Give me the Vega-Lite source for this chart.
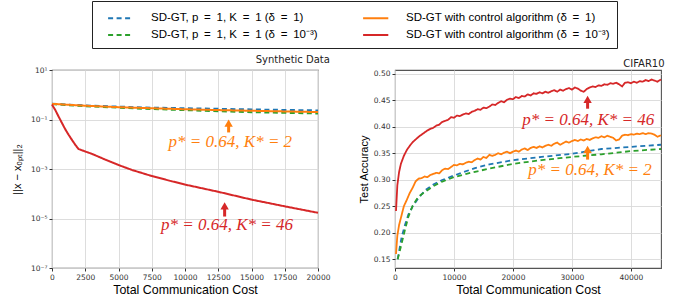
{
  "$schema": "https://vega.github.io/schema/vega-lite/v6.json",
  "autosize": {"type": "pad"},
  "padding": {"left": 10, "top": 0, "right": 18, "bottom": 0},
  "bounds": "flush",
  "spacing": 77,
  "background": "white",
  "config": {
    "view": {"stroke": "#555", "strokeWidth": 1.1},
    "font": "DejaVu Sans",
    "axis": {
      "domain": false,
      "grid": true,
      "gridColor": "#d9d9d9",
      "gridWidth": 0.9,
      "tickColor": "#333",
      "tickSize": 3,
      "labelFont": "DejaVu Sans",
      "labelFontSize": 7.5,
      "labelColor": "#333",
      "labelPadding": 2,
      "labelOverlap": false,
      "titleFont": "Liberation Sans",
      "titleFontWeight": "normal",
      "titleColor": "black",
      "labelFlush": false
    },
    "title": {"font": "DejaVu Sans", "fontSize": 10, "fontWeight": "normal", "anchor": "end", "offset": 1, "color": "#222"}
  },
  "resolve": {"scale": {"color": "shared", "strokeDash": "shared", "x": "independent", "y": "independent"}},
  "datasets": {
    "lines": [
      {"p": "syn", "s": "b", "x": 0, "y": 0.43},
      {"p": "syn", "s": "b", "x": 2500, "y": 0.37},
      {"p": "syn", "s": "b", "x": 5000, "y": 0.33},
      {"p": "syn", "s": "b", "x": 7500, "y": 0.30},
      {"p": "syn", "s": "b", "x": 10000, "y": 0.285},
      {"p": "syn", "s": "b", "x": 12500, "y": 0.27},
      {"p": "syn", "s": "b", "x": 15000, "y": 0.255},
      {"p": "syn", "s": "b", "x": 17500, "y": 0.243},
      {"p": "syn", "s": "b", "x": 20000, "y": 0.232},
      {"p": "syn", "s": "g", "x": 0, "y": 0.42},
      {"p": "syn", "s": "g", "x": 2500, "y": 0.345},
      {"p": "syn", "s": "g", "x": 5000, "y": 0.30},
      {"p": "syn", "s": "g", "x": 7500, "y": 0.265},
      {"p": "syn", "s": "g", "x": 10000, "y": 0.24},
      {"p": "syn", "s": "g", "x": 12500, "y": 0.215},
      {"p": "syn", "s": "g", "x": 15000, "y": 0.198},
      {"p": "syn", "s": "g", "x": 17500, "y": 0.186},
      {"p": "syn", "s": "g", "x": 20000, "y": 0.176},
      {"p": "syn", "s": "o", "x": 0, "y": 0.43},
      {"p": "syn", "s": "o", "x": 2500, "y": 0.36},
      {"p": "syn", "s": "o", "x": 5000, "y": 0.315},
      {"p": "syn", "s": "o", "x": 7500, "y": 0.285},
      {"p": "syn", "s": "o", "x": 10000, "y": 0.26},
      {"p": "syn", "s": "o", "x": 12500, "y": 0.24},
      {"p": "syn", "s": "o", "x": 15000, "y": 0.225},
      {"p": "syn", "s": "o", "x": 17500, "y": 0.212},
      {"p": "syn", "s": "o", "x": 20000, "y": 0.20},
      {"p": "syn", "s": "r", "x": 0, "y": 0.40},
      {"p": "syn", "s": "r", "x": 250, "y": 0.24},
      {"p": "syn", "s": "r", "x": 500, "y": 0.13},
      {"p": "syn", "s": "r", "x": 750, "y": 0.072},
      {"p": "syn", "s": "r", "x": 1000, "y": 0.040},
      {"p": "syn", "s": "r", "x": 1250, "y": 0.024},
      {"p": "syn", "s": "r", "x": 1500, "y": 0.015},
      {"p": "syn", "s": "r", "x": 1750, "y": 0.0095},
      {"p": "syn", "s": "r", "x": 2000, "y": 0.0064},
      {"p": "syn", "s": "r", "x": 2500, "y": 0.0051},
      {"p": "syn", "s": "r", "x": 3000, "y": 0.0041},
      {"p": "syn", "s": "r", "x": 4000, "y": 0.0024},
      {"p": "syn", "s": "r", "x": 5000, "y": 0.00145},
      {"p": "syn", "s": "r", "x": 6000, "y": 0.00092},
      {"p": "syn", "s": "r", "x": 7500, "y": 0.00052},
      {"p": "syn", "s": "r", "x": 9000, "y": 0.00032},
      {"p": "syn", "s": "r", "x": 10000, "y": 0.000235},
      {"p": "syn", "s": "r", "x": 12500, "y": 0.00012},
      {"p": "syn", "s": "r", "x": 15000, "y": 0.000058},
      {"p": "syn", "s": "r", "x": 17500, "y": 0.000031},
      {"p": "syn", "s": "r", "x": 20000, "y": 0.000017},

      {"p": "cif", "s": "b", "x": 450, "y": 0.150},
      {"p": "cif", "s": "b", "x": 800, "y": 0.172},
      {"p": "cif", "s": "b", "x": 1130, "y": 0.192},
      {"p": "cif", "s": "b", "x": 1700, "y": 0.215},
      {"p": "cif", "s": "b", "x": 2260, "y": 0.234},
      {"p": "cif", "s": "b", "x": 3000, "y": 0.250},
      {"p": "cif", "s": "b", "x": 3955, "y": 0.265},
      {"p": "cif", "s": "b", "x": 5085, "y": 0.280},
      {"p": "cif", "s": "b", "x": 6500, "y": 0.291},
      {"p": "cif", "s": "b", "x": 7900, "y": 0.299},
      {"p": "cif", "s": "b", "x": 10000, "y": 0.308},
      {"p": "cif", "s": "b", "x": 13560, "y": 0.322},
      {"p": "cif", "s": "b", "x": 16000, "y": 0.329},
      {"p": "cif", "s": "b", "x": 20000, "y": 0.337},
      {"p": "cif", "s": "b", "x": 24860, "y": 0.343},
      {"p": "cif", "s": "b", "x": 30000, "y": 0.349},
      {"p": "cif", "s": "b", "x": 35000, "y": 0.358},
      {"p": "cif", "s": "b", "x": 40000, "y": 0.362},
      {"p": "cif", "s": "b", "x": 45100, "y": 0.366},
      {"p": "cif", "s": "g", "x": 450, "y": 0.150},
      {"p": "cif", "s": "g", "x": 800, "y": 0.165},
      {"p": "cif", "s": "g", "x": 1130, "y": 0.180},
      {"p": "cif", "s": "g", "x": 1700, "y": 0.206},
      {"p": "cif", "s": "g", "x": 2260, "y": 0.230},
      {"p": "cif", "s": "g", "x": 3000, "y": 0.251},
      {"p": "cif", "s": "g", "x": 3955, "y": 0.268},
      {"p": "cif", "s": "g", "x": 5085, "y": 0.277},
      {"p": "cif", "s": "g", "x": 6500, "y": 0.288},
      {"p": "cif", "s": "g", "x": 7900, "y": 0.296},
      {"p": "cif", "s": "g", "x": 10000, "y": 0.305},
      {"p": "cif", "s": "g", "x": 13560, "y": 0.315},
      {"p": "cif", "s": "g", "x": 16000, "y": 0.321},
      {"p": "cif", "s": "g", "x": 20000, "y": 0.330},
      {"p": "cif", "s": "g", "x": 24860, "y": 0.337},
      {"p": "cif", "s": "g", "x": 30000, "y": 0.343},
      {"p": "cif", "s": "g", "x": 35000, "y": 0.348},
      {"p": "cif", "s": "g", "x": 40000, "y": 0.354},
      {"p": "cif", "s": "g", "x": 45100, "y": 0.358},
      {"p": "cif", "s": "o", "x": 170, "y": 0.160},
      {"p": "cif", "s": "o", "x": 400, "y": 0.195},
      {"p": "cif", "s": "o", "x": 700, "y": 0.215},
      {"p": "cif", "s": "o", "x": 1000, "y": 0.228},
      {"p": "cif", "s": "o", "x": 1500, "y": 0.250},
      {"p": "cif", "s": "o", "x": 2000, "y": 0.262},
      {"p": "cif", "s": "o", "x": 2500, "y": 0.275},
      {"p": "cif", "s": "o", "x": 3000, "y": 0.285},
      {"p": "cif", "s": "o", "x": 3500, "y": 0.297},
      {"p": "cif", "s": "o", "x": 4000, "y": 0.302},
      {"p": "cif", "s": "o", "x": 4500, "y": 0.303},
      {"p": "cif", "s": "o", "x": 5000, "y": 0.306},
      {"p": "cif", "s": "o", "x": 5500, "y": 0.305},
      {"p": "cif", "s": "o", "x": 6000, "y": 0.309},
      {"p": "cif", "s": "o", "x": 6500, "y": 0.311},
      {"p": "cif", "s": "o", "x": 7000, "y": 0.313},
      {"p": "cif", "s": "o", "x": 7500, "y": 0.312},
      {"p": "cif", "s": "o", "x": 8000, "y": 0.318},
      {"p": "cif", "s": "o", "x": 8500, "y": 0.321},
      {"p": "cif", "s": "o", "x": 9000, "y": 0.320},
      {"p": "cif", "s": "o", "x": 9500, "y": 0.324},
      {"p": "cif", "s": "o", "x": 10000, "y": 0.328},
      {"p": "cif", "s": "o", "x": 10500, "y": 0.327},
      {"p": "cif", "s": "o", "x": 11000, "y": 0.330},
      {"p": "cif", "s": "o", "x": 11500, "y": 0.329},
      {"p": "cif", "s": "o", "x": 12000, "y": 0.332},
      {"p": "cif", "s": "o", "x": 12500, "y": 0.334},
      {"p": "cif", "s": "o", "x": 13000, "y": 0.333},
      {"p": "cif", "s": "o", "x": 13500, "y": 0.337},
      {"p": "cif", "s": "o", "x": 14000, "y": 0.340},
      {"p": "cif", "s": "o", "x": 14500, "y": 0.338},
      {"p": "cif", "s": "o", "x": 15000, "y": 0.343},
      {"p": "cif", "s": "o", "x": 15500, "y": 0.341},
      {"p": "cif", "s": "o", "x": 16000, "y": 0.347},
      {"p": "cif", "s": "o", "x": 16500, "y": 0.345},
      {"p": "cif", "s": "o", "x": 17000, "y": 0.347},
      {"p": "cif", "s": "o", "x": 17500, "y": 0.350},
      {"p": "cif", "s": "o", "x": 18000, "y": 0.348},
      {"p": "cif", "s": "o", "x": 18500, "y": 0.351},
      {"p": "cif", "s": "o", "x": 19000, "y": 0.353},
      {"p": "cif", "s": "o", "x": 19500, "y": 0.350},
      {"p": "cif", "s": "o", "x": 20000, "y": 0.353},
      {"p": "cif", "s": "o", "x": 20500, "y": 0.355},
      {"p": "cif", "s": "o", "x": 21000, "y": 0.353},
      {"p": "cif", "s": "o", "x": 21500, "y": 0.357},
      {"p": "cif", "s": "o", "x": 22000, "y": 0.359},
      {"p": "cif", "s": "o", "x": 22500, "y": 0.356},
      {"p": "cif", "s": "o", "x": 23000, "y": 0.360},
      {"p": "cif", "s": "o", "x": 23500, "y": 0.362},
      {"p": "cif", "s": "o", "x": 24000, "y": 0.360},
      {"p": "cif", "s": "o", "x": 24500, "y": 0.363},
      {"p": "cif", "s": "o", "x": 25000, "y": 0.361},
      {"p": "cif", "s": "o", "x": 25500, "y": 0.364},
      {"p": "cif", "s": "o", "x": 26000, "y": 0.366},
      {"p": "cif", "s": "o", "x": 26500, "y": 0.364},
      {"p": "cif", "s": "o", "x": 27000, "y": 0.368},
      {"p": "cif", "s": "o", "x": 27500, "y": 0.370},
      {"p": "cif", "s": "o", "x": 28000, "y": 0.366},
      {"p": "cif", "s": "o", "x": 28500, "y": 0.369},
      {"p": "cif", "s": "o", "x": 29000, "y": 0.372},
      {"p": "cif", "s": "o", "x": 29500, "y": 0.370},
      {"p": "cif", "s": "o", "x": 30000, "y": 0.373},
      {"p": "cif", "s": "o", "x": 30500, "y": 0.375},
      {"p": "cif", "s": "o", "x": 31000, "y": 0.373},
      {"p": "cif", "s": "o", "x": 31500, "y": 0.376},
      {"p": "cif", "s": "o", "x": 32000, "y": 0.374},
      {"p": "cif", "s": "o", "x": 32500, "y": 0.377},
      {"p": "cif", "s": "o", "x": 33000, "y": 0.375},
      {"p": "cif", "s": "o", "x": 33500, "y": 0.378},
      {"p": "cif", "s": "o", "x": 34000, "y": 0.380},
      {"p": "cif", "s": "o", "x": 34500, "y": 0.379},
      {"p": "cif", "s": "o", "x": 35000, "y": 0.382},
      {"p": "cif", "s": "o", "x": 35500, "y": 0.380},
      {"p": "cif", "s": "o", "x": 36000, "y": 0.383},
      {"p": "cif", "s": "o", "x": 36500, "y": 0.381},
      {"p": "cif", "s": "o", "x": 37000, "y": 0.379},
      {"p": "cif", "s": "o", "x": 37500, "y": 0.374},
      {"p": "cif", "s": "o", "x": 38000, "y": 0.376},
      {"p": "cif", "s": "o", "x": 38500, "y": 0.383},
      {"p": "cif", "s": "o", "x": 39000, "y": 0.385},
      {"p": "cif", "s": "o", "x": 39500, "y": 0.384},
      {"p": "cif", "s": "o", "x": 40000, "y": 0.386},
      {"p": "cif", "s": "o", "x": 40500, "y": 0.385},
      {"p": "cif", "s": "o", "x": 41000, "y": 0.387},
      {"p": "cif", "s": "o", "x": 41500, "y": 0.386},
      {"p": "cif", "s": "o", "x": 42000, "y": 0.388},
      {"p": "cif", "s": "o", "x": 42500, "y": 0.386},
      {"p": "cif", "s": "o", "x": 43000, "y": 0.388},
      {"p": "cif", "s": "o", "x": 43500, "y": 0.387},
      {"p": "cif", "s": "o", "x": 44000, "y": 0.385},
      {"p": "cif", "s": "o", "x": 44500, "y": 0.381},
      {"p": "cif", "s": "o", "x": 45100, "y": 0.384},
      {"p": "cif", "s": "r", "x": 170, "y": 0.241},
      {"p": "cif", "s": "r", "x": 400, "y": 0.290},
      {"p": "cif", "s": "r", "x": 700, "y": 0.315},
      {"p": "cif", "s": "r", "x": 1000, "y": 0.330},
      {"p": "cif", "s": "r", "x": 1500, "y": 0.345},
      {"p": "cif", "s": "r", "x": 2000, "y": 0.356},
      {"p": "cif", "s": "r", "x": 2500, "y": 0.364},
      {"p": "cif", "s": "r", "x": 3000, "y": 0.371},
      {"p": "cif", "s": "r", "x": 3500, "y": 0.376},
      {"p": "cif", "s": "r", "x": 4000, "y": 0.381},
      {"p": "cif", "s": "r", "x": 4500, "y": 0.385},
      {"p": "cif", "s": "r", "x": 5000, "y": 0.389},
      {"p": "cif", "s": "r", "x": 5500, "y": 0.393},
      {"p": "cif", "s": "r", "x": 6000, "y": 0.396},
      {"p": "cif", "s": "r", "x": 6500, "y": 0.398},
      {"p": "cif", "s": "r", "x": 7000, "y": 0.402},
      {"p": "cif", "s": "r", "x": 7500, "y": 0.404},
      {"p": "cif", "s": "r", "x": 8000, "y": 0.409},
      {"p": "cif", "s": "r", "x": 8500, "y": 0.411},
      {"p": "cif", "s": "r", "x": 9000, "y": 0.413},
      {"p": "cif", "s": "r", "x": 9500, "y": 0.418},
      {"p": "cif", "s": "r", "x": 10000, "y": 0.417},
      {"p": "cif", "s": "r", "x": 10500, "y": 0.421},
      {"p": "cif", "s": "r", "x": 11000, "y": 0.420},
      {"p": "cif", "s": "r", "x": 11500, "y": 0.423},
      {"p": "cif", "s": "r", "x": 12000, "y": 0.425},
      {"p": "cif", "s": "r", "x": 12500, "y": 0.424},
      {"p": "cif", "s": "r", "x": 13000, "y": 0.428},
      {"p": "cif", "s": "r", "x": 13500, "y": 0.430},
      {"p": "cif", "s": "r", "x": 14000, "y": 0.433},
      {"p": "cif", "s": "r", "x": 14500, "y": 0.432},
      {"p": "cif", "s": "r", "x": 15000, "y": 0.436},
      {"p": "cif", "s": "r", "x": 15500, "y": 0.435},
      {"p": "cif", "s": "r", "x": 16000, "y": 0.438},
      {"p": "cif", "s": "r", "x": 16500, "y": 0.442},
      {"p": "cif", "s": "r", "x": 17000, "y": 0.441},
      {"p": "cif", "s": "r", "x": 17500, "y": 0.445},
      {"p": "cif", "s": "r", "x": 18000, "y": 0.448},
      {"p": "cif", "s": "r", "x": 18500, "y": 0.446},
      {"p": "cif", "s": "r", "x": 19000, "y": 0.451},
      {"p": "cif", "s": "r", "x": 19500, "y": 0.453},
      {"p": "cif", "s": "r", "x": 20000, "y": 0.452},
      {"p": "cif", "s": "r", "x": 20500, "y": 0.456},
      {"p": "cif", "s": "r", "x": 21000, "y": 0.454},
      {"p": "cif", "s": "r", "x": 21500, "y": 0.458},
      {"p": "cif", "s": "r", "x": 22000, "y": 0.457},
      {"p": "cif", "s": "r", "x": 22500, "y": 0.461},
      {"p": "cif", "s": "r", "x": 23000, "y": 0.459},
      {"p": "cif", "s": "r", "x": 23500, "y": 0.463},
      {"p": "cif", "s": "r", "x": 24000, "y": 0.462},
      {"p": "cif", "s": "r", "x": 24500, "y": 0.465},
      {"p": "cif", "s": "r", "x": 25000, "y": 0.463},
      {"p": "cif", "s": "r", "x": 25500, "y": 0.466},
      {"p": "cif", "s": "r", "x": 26000, "y": 0.464},
      {"p": "cif", "s": "r", "x": 26500, "y": 0.467},
      {"p": "cif", "s": "r", "x": 27000, "y": 0.469},
      {"p": "cif", "s": "r", "x": 27500, "y": 0.466},
      {"p": "cif", "s": "r", "x": 28000, "y": 0.470},
      {"p": "cif", "s": "r", "x": 28500, "y": 0.468},
      {"p": "cif", "s": "r", "x": 29000, "y": 0.471},
      {"p": "cif", "s": "r", "x": 29500, "y": 0.473},
      {"p": "cif", "s": "r", "x": 30000, "y": 0.470},
      {"p": "cif", "s": "r", "x": 30500, "y": 0.474},
      {"p": "cif", "s": "r", "x": 31000, "y": 0.472},
      {"p": "cif", "s": "r", "x": 31500, "y": 0.468},
      {"p": "cif", "s": "r", "x": 32000, "y": 0.466},
      {"p": "cif", "s": "r", "x": 32500, "y": 0.471},
      {"p": "cif", "s": "r", "x": 33000, "y": 0.474},
      {"p": "cif", "s": "r", "x": 33500, "y": 0.476},
      {"p": "cif", "s": "r", "x": 34000, "y": 0.475},
      {"p": "cif", "s": "r", "x": 34500, "y": 0.478},
      {"p": "cif", "s": "r", "x": 35000, "y": 0.477},
      {"p": "cif", "s": "r", "x": 35500, "y": 0.480},
      {"p": "cif", "s": "r", "x": 36000, "y": 0.479},
      {"p": "cif", "s": "r", "x": 36500, "y": 0.482},
      {"p": "cif", "s": "r", "x": 37000, "y": 0.481},
      {"p": "cif", "s": "r", "x": 37500, "y": 0.483},
      {"p": "cif", "s": "r", "x": 38000, "y": 0.480},
      {"p": "cif", "s": "r", "x": 38500, "y": 0.476},
      {"p": "cif", "s": "r", "x": 39000, "y": 0.483},
      {"p": "cif", "s": "r", "x": 39500, "y": 0.484},
      {"p": "cif", "s": "r", "x": 40000, "y": 0.482},
      {"p": "cif", "s": "r", "x": 40500, "y": 0.485},
      {"p": "cif", "s": "r", "x": 41000, "y": 0.483},
      {"p": "cif", "s": "r", "x": 41500, "y": 0.486},
      {"p": "cif", "s": "r", "x": 42000, "y": 0.485},
      {"p": "cif", "s": "r", "x": 42500, "y": 0.488},
      {"p": "cif", "s": "r", "x": 43000, "y": 0.486},
      {"p": "cif", "s": "r", "x": 43500, "y": 0.489},
      {"p": "cif", "s": "r", "x": 44000, "y": 0.487},
      {"p": "cif", "s": "r", "x": 44500, "y": 0.485},
      {"p": "cif", "s": "r", "x": 45100, "y": 0.489}
    ],
    "ann": [
      {"p": "syn", "k": "o", "x": 13280, "y0": 0.030, "y1": 0.072, "tx": 13410, "ty": 0.0118, "t": "p* = 0.64, K* = 2"},
      {"p": "syn", "k": "r", "x": 12980, "y0": 0.000012, "y1": 0.000032, "tx": 13160, "ty": 0.0000054, "t": "p* = 0.64, K* = 46"},
      {"p": "cif", "k": "o", "x": 32655, "y0": 0.338, "y1": 0.3574, "tx": 33050, "ty": 0.3178, "t": "p* = 0.64, K* = 2"},
      {"p": "cif", "k": "r", "x": 32655, "y0": 0.434, "y1": 0.4516, "tx": 32770, "ty": 0.4133, "t": "p* = 0.64, K* = 46"}
    ]
  },
  "hconcat": [
    {
      "width": 266,
      "height": 198,
      "title": {"text": "Synthetic Data"},
      "encoding": {
        "x": {"field": "x", "type": "quantitative", "scale": {"domain": [0, 20000], "nice": false},
              "axis": {"values": [0, 2500, 5000, 7500, 10000, 12500, 15000, 17500, 20000], "format": "d", "title": "Total Communication Cost", "titleFontSize": 12.4, "titlePadding": 3, "labelOverlap": false}}
      },
      "layer": [
        {
          "data": {"name": "lines"},
          "transform": [{"filter": "datum.p == 'syn'"}],
          "mark": {"type": "line", "strokeWidth": 2},
          "encoding": {
            "y": {"field": "y", "type": "quantitative", "scale": {"type": "log", "domain": [1e-7, 10], "nice": false},
                  "axis": {"values": [1e-7, 1e-5, 1e-3, 1e-1, 10], "title": "||x − xₒₚₜ||₂", "titleFontSize": 11, "titlePadding": 8, "labelOverlap": false,
                           "labelExpr": "datum.value > 5 ? '10¹' : datum.value > 0.05 ? '10⁻¹' : datum.value > 0.0005 ? '10⁻³' : datum.value > 0.000005 ? '10⁻⁵' : '10⁻⁷'"}},
            "color": {"field": "s", "type": "nominal",
                      "scale": {"domain": ["b", "o", "g", "r"], "range": ["#1f77b4", "#ff7f0e", "#2ca02c", "#d62728"]},
                      "legend": {"title": null, "orient": "none", "legendX": 40, "legendY": -69, "columns": 2, "direction": "horizontal",
                                 "symbolType": "M-0.1,0H2.7", "symbolSize": 324, "symbolStrokeWidth": 1.8,
                                 "labelFont": "Liberation Sans", "labelFontSize": 11.5, "labelColor": "black", "labelOffset": 32, "labelLimit": 400,
                                 "columnPadding": 36, "rowPadding": 1, "padding": 7, "strokeColor": "#222", "fillColor": "white", "cornerRadius": 0,
                                 "labelExpr": "datum.value == 'b' ? 'SD-GT, p\u2002=\u20021, K\u2002=\u20021 (δ\u2002=\u20021)' : datum.value == 'g' ? 'SD-GT, p\u2002=\u20021, K\u2002=\u20021 (δ\u2002=\u200210⁻³)' : datum.value == 'o' ? 'SD-GT with control algorithm (δ\u2002=\u20021)' : 'SD-GT with control algorithm (δ\u2002=\u200210⁻³)'"}},
            "strokeDash": {"field": "s", "type": "nominal",
                           "scale": {"domain": ["b", "o", "g", "r"], "range": [[5, 3.5], [1, 0], [5, 3.5], [1, 0]]},
                           "legend": {"title": null, "orient": "none", "legendX": 40, "legendY": -69, "columns": 2, "direction": "horizontal",
                                 "symbolType": "M-0.1,0H2.7", "symbolSize": 324, "symbolStrokeWidth": 1.8,
                                 "labelFont": "Liberation Sans", "labelFontSize": 11.5, "labelColor": "black", "labelOffset": 32, "labelLimit": 400,
                                 "columnPadding": 36, "rowPadding": 1, "padding": 7, "strokeColor": "#222", "fillColor": "white", "cornerRadius": 0,
                                 "labelExpr": "datum.value == 'b' ? 'SD-GT, p\u2002=\u20021, K\u2002=\u20021 (δ\u2002=\u20021)' : datum.value == 'g' ? 'SD-GT, p\u2002=\u20021, K\u2002=\u20021 (δ\u2002=\u200210⁻³)' : datum.value == 'o' ? 'SD-GT with control algorithm (δ\u2002=\u20021)' : 'SD-GT with control algorithm (δ\u2002=\u200210⁻³)'"}}
          }
        },
        {
          "data": {"name": "ann"},
          "transform": [{"filter": "datum.p == 'syn' && datum.k == 'o'"}],
          "layer": [
            {"mark": {"type": "rule", "color": "#ff7f0e", "strokeWidth": 3}, "encoding": {"y": {"field": "y0", "type": "quantitative"}, "y2": {"field": "y1"}}},
            {"mark": {"type": "point", "shape": "triangle-up", "filled": true, "color": "#ff7f0e", "size": 70, "opacity": 1}, "encoding": {"y": {"field": "y1", "type": "quantitative"}}},
            {"mark": {"type": "text", "color": "#ff7f0e", "font": "Liberation Serif", "fontStyle": "italic", "fontSize": 17, "baseline": "middle"},
             "encoding": {"x": {"field": "tx", "type": "quantitative"}, "y": {"field": "ty", "type": "quantitative"}, "text": {"field": "t"}}}
          ]
        },
        {
          "data": {"name": "ann"},
          "transform": [{"filter": "datum.p == 'syn' && datum.k == 'r'"}],
          "layer": [
            {"mark": {"type": "rule", "color": "#d62728", "strokeWidth": 3}, "encoding": {"y": {"field": "y0", "type": "quantitative"}, "y2": {"field": "y1"}}},
            {"mark": {"type": "point", "shape": "triangle-up", "filled": true, "color": "#d62728", "size": 70, "opacity": 1}, "encoding": {"y": {"field": "y1", "type": "quantitative"}}},
            {"mark": {"type": "text", "color": "#d62728", "font": "Liberation Serif", "fontStyle": "italic", "fontSize": 17, "baseline": "middle"},
             "encoding": {"x": {"field": "tx", "type": "quantitative"}, "y": {"field": "ty", "type": "quantitative"}, "text": {"field": "t"}}}
          ]
        }
      ]
    },
    {
      "width": 266,
      "height": 198,
      "title": {"text": "CIFAR10"},
      "encoding": {
        "x": {"field": "x", "type": "quantitative", "scale": {"domain": [0, 45100], "nice": false},
              "axis": {"values": [0, 10000, 20000, 30000, 40000], "format": "d", "title": "Total Communication Cost", "titleFontSize": 12.4, "titlePadding": 3, "labelOverlap": false}},
        "y": {"type": "quantitative", "scale": {"domain": [0.1335, 0.507], "nice": false, "zero": false},
              "axis": {"values": [0.15, 0.2, 0.25, 0.3, 0.35, 0.4, 0.45, 0.5], "format": ".2f", "title": "Test Accuracy", "titleFontSize": 11, "titlePadding": 4, "labelOverlap": false}}
      },
      "layer": [
        {
          "data": {"name": "lines"},
          "transform": [{"filter": "datum.p == 'cif'"}],
          "mark": {"type": "line", "strokeWidth": 1.8},
          "encoding": {
            "y": {"field": "y", "type": "quantitative"},
            "color": {"field": "s", "type": "nominal"},
            "strokeDash": {"field": "s", "type": "nominal"}
          }
        },
        {
          "data": {"name": "ann"},
          "transform": [{"filter": "datum.p == 'cif' && datum.k == 'o'"}],
          "layer": [
            {"mark": {"type": "rule", "color": "#ff7f0e", "strokeWidth": 3}, "encoding": {"y": {"field": "y0", "type": "quantitative"}, "y2": {"field": "y1"}}},
            {"mark": {"type": "point", "shape": "triangle-up", "filled": true, "color": "#ff7f0e", "size": 70, "opacity": 1}, "encoding": {"y": {"field": "y1", "type": "quantitative"}}},
            {"mark": {"type": "text", "color": "#ff7f0e", "font": "Liberation Serif", "fontStyle": "italic", "fontSize": 17, "baseline": "middle"},
             "encoding": {"x": {"field": "tx", "type": "quantitative"}, "y": {"field": "ty", "type": "quantitative"}, "text": {"field": "t"}}}
          ]
        },
        {
          "data": {"name": "ann"},
          "transform": [{"filter": "datum.p == 'cif' && datum.k == 'r'"}],
          "layer": [
            {"mark": {"type": "rule", "color": "#d62728", "strokeWidth": 3}, "encoding": {"y": {"field": "y0", "type": "quantitative"}, "y2": {"field": "y1"}}},
            {"mark": {"type": "point", "shape": "triangle-up", "filled": true, "color": "#d62728", "size": 70, "opacity": 1}, "encoding": {"y": {"field": "y1", "type": "quantitative"}}},
            {"mark": {"type": "text", "color": "#d62728", "font": "Liberation Serif", "fontStyle": "italic", "fontSize": 17, "baseline": "middle"},
             "encoding": {"x": {"field": "tx", "type": "quantitative"}, "y": {"field": "ty", "type": "quantitative"}, "text": {"field": "t"}}}
          ]
        }
      ]
    }
  ]
}
